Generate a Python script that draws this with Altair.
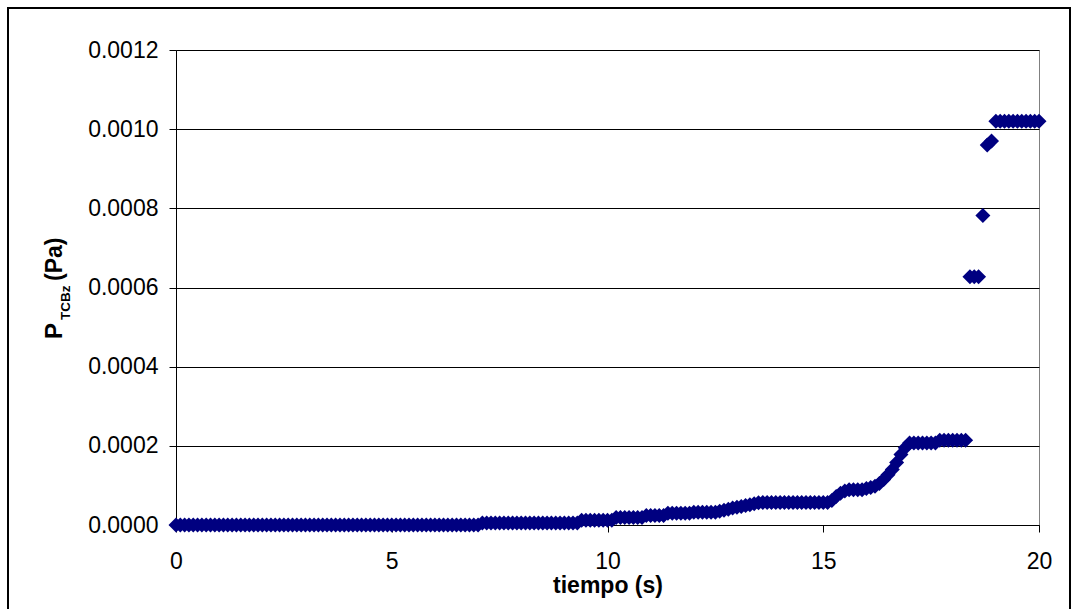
import altair as alt
import numpy as np
import pandas as pd

# Pressure readings sampled every 0.1 s; each run holds one reading
# (start time, end time, pressure in Pa).
run_start = [0.0, 7.1, 9.4, 10.2, 10.9, 11.4, 12.0, 12.6, 12.7, 12.8, 12.9,
             13.0, 13.1, 13.2, 13.3, 13.4, 13.5, 13.6, 15.2, 15.3, 15.4, 15.5,
             15.6, 16.0, 16.1, 16.2, 16.3, 16.4, 16.5, 16.6, 16.7, 16.8, 16.9,
             17.0, 17.7, 18.4, 18.7, 18.8, 18.9, 19.0]
run_end = [7.0, 9.3, 10.1, 10.8, 11.3, 11.9, 12.5, 12.6, 12.7, 12.8, 12.9,
           13.0, 13.1, 13.2, 13.3, 13.4, 13.5, 15.1, 15.2, 15.3, 15.4, 15.5,
           15.9, 16.0, 16.1, 16.2, 16.3, 16.4, 16.5, 16.6, 16.7, 16.8, 16.9,
           17.6, 18.3, 18.6, 18.7, 18.8, 18.9, 20.0]
run_value = [0.0, 0.000005, 0.000012, 0.000019, 0.000024, 0.000030, 0.000032,
             0.000035, 0.000037, 0.000040, 0.000043, 0.000045, 0.000047,
             0.000049, 0.000051, 0.000054, 0.000056, 0.000057, 0.000062,
             0.000072, 0.000080, 0.000086, 0.000089, 0.000092, 0.000095,
             0.000098, 0.000105, 0.000115, 0.000127, 0.000140, 0.000158,
             0.000178, 0.000195, 0.000207, 0.000214, 0.000627, 0.000782,
             0.00096, 0.00097, 0.00102]

x_ticks = [0, 5, 10, 15, 20]
y_ticks = [0.0, 0.0002, 0.0004, 0.0006, 0.0008, 0.0010, 0.0012]

times, values = [], []
for a, b, v in zip(run_start, run_end, run_value):
    n = int(round((b - a) * 10)) + 1
    for k in range(n):
        times.append(round(a + k * 0.1, 1))
        values.append(v)
df = pd.DataFrame({"tiempo": times, "P": values})

FONT = "Liberation Sans"
W, H = 863, 475

points = alt.Chart(df).mark_point(
    shape="diamond", filled=True, size=225, color="#000080", opacity=1
).encode(
    x=alt.X("tiempo:Q",
            scale=alt.Scale(domain=[0, 20], nice=False, zero=False),
            axis=alt.Axis(values=x_ticks, format="d", grid=False,
                          title="tiempo (s)", titleFont=FONT, titleFontSize=23,
                          titleFontWeight="bold", titleColor="black",
                          titleBaseline="alphabetic", titleY=67,
                          labelFont=FONT, labelFontSize=23, labelColor="black",
                          labelPadding=18, tickSize=7, tickColor="black",
                          domainColor="black", labelFlush=False)),
    y=alt.Y("P:Q",
            scale=alt.Scale(domain=[0, 0.0012], nice=False),
            axis=alt.Axis(values=y_ticks, format=".4f", grid=True,
                          gridColor="black", gridWidth=1, title=None,
                          labelFont=FONT, labelFontSize=23, labelColor="black",
                          labelPadding=11, tickSize=7, tickColor="black",
                          domainColor="black", labelFlush=False)),
)

one = pd.DataFrame({"k": [0]})

# outer frame around the whole figure
frame = alt.Chart(one).mark_rect(
    fill=None, stroke="black", strokeWidth=2, fillOpacity=0
).encode(
    x=alt.value(-168), x2=alt.value(894), y=alt.value(-42), y2=alt.value(600)
)

# rotated y-axis title with subscript
def ytext(txt, size, xpos, ypos):
    return alt.Chart(one).mark_text(
        text=txt, angle=270, align="left", baseline="alphabetic",
        font=FONT, fontSize=size, fontWeight="bold", color="black"
    ).encode(x=alt.value(xpos), y=alt.value(ypos))

title_p = ytext("P", 24, -114, 289)
title_sub = ytext("TCBz", 13.5, -106, 270)
title_unit = ytext("(Pa)", 23, -114, 231)

chart = alt.layer(frame, points, title_p, title_sub, title_unit).properties(
    width=W, height=H,
    autosize=alt.AutoSizeParams(type="none"),
    padding={"left": 176, "top": 50, "right": 1077 - 176 - W,
             "bottom": 609 - 50 - H},
    background="white",
).configure_view(stroke="#808080", strokeWidth=1)

chart.save("out.html", embed_options={"renderer": "svg", "actions": False})
